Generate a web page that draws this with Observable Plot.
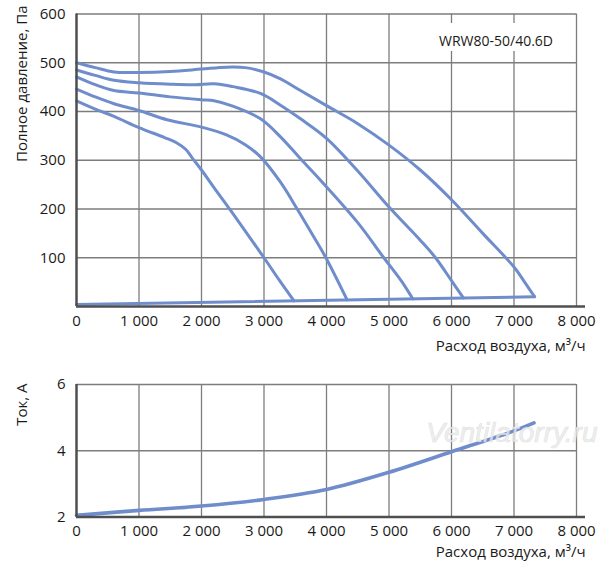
<!DOCTYPE html>
<html>
<head>
<meta charset="utf-8">
<script src="https://cdn.jsdelivr.net/npm/d3@7"></script>
<script src="https://cdn.jsdelivr.net/npm/@observablehq/plot@0.6"></script>
<style>
  html, body { margin: 0; padding: 0; background: #fff; }
  #wrap { position: relative; width: 600px; height: 569px; overflow: hidden; }
  #wrap svg { display: block; overflow: visible; }
  #model { position: absolute; left: 427px; top: 23px; width: 132px; height: 28px; background: #fff; }
  #model span { position: absolute; right: 6px; top: 7.9px; line-height: 14px; font: 14px "Open Sans", sans-serif; color: #1a1a1a; white-space: nowrap; }
</style>
</head>
<body>
<div id="wrap"></div>
<script>
// ---- data ----
const modelName = "WRW80-50/40.6D";
const flowTicks = [0, 1000, 2000, 3000, 4000, 5000, 6000, 7000, 8000];
const flowTickLabels = ["0", "1 000", "2 000", "3 000", "4 000", "5 000", "6 000", "7 000", "8 000"];
const pressureTicks = [100, 200, 300, 400, 500, 600];
const currentTicks = [2, 4, 6];

// fan curves: [airflow m³/h, pressure Pa]
const fanCurve1 = [[0,500],[300,490],[600,481],[1000,480],[1500,482],[2000,487],[2400,491],[2700,490],[3000,481],[3264,467],[3584,443],[4000,412],[4500,375],[5000,331],[5500,280],[6000,219],[6500,150],[7000,81],[7170,50],[7330,20]];
const fanCurve2 = [[0,485],[300,474],[600,464],[1000,459],[1500,456],[1900,455],[2200,457],[2500,451],[2944,437],[3264,413],[3584,385],[4000,345],[4500,278],[5000,204],[5500,136],[5744,100],[6000,53],[6190,17.5]];
const fanCurve3 = [[0,471],[300,455],[600,443],[1000,438],[1500,430],[2000,424],[2200,422],[2500,411],[2944,385],[3264,348],[3584,303],[3904,259],[4500,172],[4917,100],[5200,52],[5380,15.7]];
const fanCurve4 = [[0,446],[300,430],[600,416],[1000,402],[1450,383],[2000,368],[2400,352],[2700,332],[2944,307],[3264,255],[3531,200],[3800,142],[3990,100],[4330,13.5]];
const fanCurve5 = [[0,422],[300,405],[600,390],[1000,367],[1400,347],[1600,336],[1750,322],[1850,305],[2000,280],[2200,244],[2500,191],[3000,100],[3250,53],[3480,11.6]];
const systemLine = [[0,4],[7330,20]];

// current: [airflow m³/h, current A]
const currentCurve = [[0,2.05],[1000,2.2],[2000,2.33],[3000,2.53],[4000,2.83],[5000,3.35],[6000,3.97],[7000,4.6],[7320,4.84]];

const xLabel = "Расход воздуха, м³/ч";
const pressureLabel = "Полное давление, Па";
const currentLabel = "Ток, А";
const watermark = "Ventilatorry.ru";

// ---- styles ----
const blue = "#6f8dcb";
const gridColor = "#7d7d7d";
const axisColor = "#4f4f4f";
const font = "'Open Sans', sans-serif";
const fmtFlow = d => flowTickLabels[flowTicks.indexOf(d)];

const gridOpts = {stroke: gridColor, strokeOpacity: 1, strokeWidth: 1.3};

const topChart = Plot.plot({
  width: 600, height: 370,
  marginLeft: 76, marginRight: 24, marginTop: 13.5, marginBottom: 64,
  style: {fontFamily: font, fontSize: "15px", color: "#1a1a1a", background: "transparent"},
  x: {domain: [0, 8000]},
  y: {domain: [0, 600]},
  marks: [
    Plot.gridX(flowTicks.slice(1), gridOpts),
    Plot.gridY(pressureTicks, gridOpts),
    Plot.axisX(flowTicks, {tickSize: 0, tickPadding: 9, tickFormat: fmtFlow, label: null, fontSize: 15}),
    Plot.axisY(pressureTicks, {tickSize: 0, tickPadding: 11, tickFormat: d => String(d), label: null, fontSize: 15}),
    ...[fanCurve1, fanCurve2, fanCurve3, fanCurve4, fanCurve5].map(c =>
      Plot.line(c, {x: d => d[0], y: d => d[1], stroke: blue, strokeWidth: 3, curve: "catmull-rom", strokeLinejoin: "round"})),
    Plot.line(systemLine, {x: d => d[0], y: d => d[1], stroke: blue, strokeWidth: 3}),
    Plot.ruleY([0], {stroke: axisColor, strokeWidth: 2.5, insetRight: -9}),
    Plot.ruleX([0], {stroke: axisColor, strokeWidth: 2.5}),
    Plot.text([pressureLabel], {frameAnchor: "top-left", rotate: -90, textAnchor: "end", dx: -60, dy: -8.5, fontSize: 15, fill: "#1a1a1a"}),
    Plot.text([xLabel], {frameAnchor: "bottom-right", textAnchor: "end", dx: 9, dy: 44, fontSize: 15, fill: "#1a1a1a"})
  ]
});

const bottomChart = Plot.plot({
  width: 600, height: 199,
  marginLeft: 76, marginRight: 24, marginTop: 14, marginBottom: 52.5,
  style: {fontFamily: font, fontSize: "15px", color: "#1a1a1a", background: "transparent"},
  x: {domain: [0, 8000]},
  y: {domain: [2, 6]},
  marks: [
    Plot.gridX(flowTicks.slice(1), gridOpts),
    Plot.gridY(currentTicks.slice(1), gridOpts),
    Plot.axisX(flowTicks, {tickSize: 0, tickPadding: 8, tickFormat: fmtFlow, label: null, fontSize: 15}),
    Plot.axisY(currentTicks, {tickSize: 0, tickPadding: 11, tickFormat: d => String(d), label: null, fontSize: 15}),
    Plot.line(currentCurve, {x: d => d[0], y: d => d[1], stroke: blue, strokeWidth: 3.6, curve: "catmull-rom"}),
    Plot.text([watermark], {frameAnchor: "top-right", textAnchor: "end", dx: 21, dy: 38, fontSize: 28, fontStyle: "italic", fontFamily: "'Liberation Sans', Arial, sans-serif", fill: "#e9e9e9", fillOpacity: 0.8, stroke: "#b8b8b8", strokeWidth: 0.6, strokeOpacity: 0.55}),
    Plot.ruleY([2], {stroke: axisColor, strokeWidth: 2.5, insetRight: -9}),
    Plot.ruleX([0], {stroke: axisColor, strokeWidth: 2.5}),
    Plot.text([currentLabel], {frameAnchor: "top-left", rotate: -90, textAnchor: "end", dx: -60, dy: -1, fontSize: 15, fill: "#1a1a1a"}),
    Plot.text([xLabel], {frameAnchor: "bottom-right", textAnchor: "end", dx: 9, dy: 39.5, fontSize: 15, fill: "#1a1a1a"})
  ]
});

const wrap = document.getElementById("wrap");
wrap.appendChild(topChart);
wrap.appendChild(bottomChart);
const box = document.createElement("div");
box.id = "model";
const span = document.createElement("span");
span.textContent = modelName;
box.appendChild(span);
wrap.appendChild(box);
</script>
</body>
</html>
